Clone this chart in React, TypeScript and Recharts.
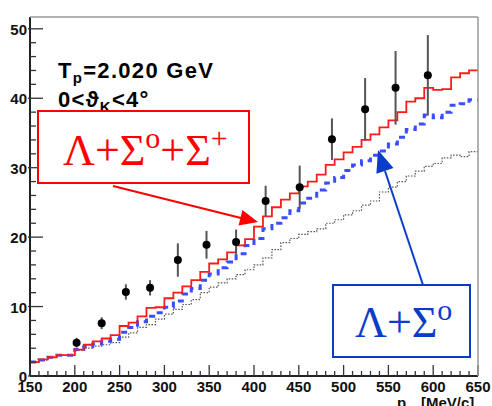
import React from 'react';
import { ComposedChart, Line, Scatter, ErrorBar, XAxis, YAxis } from 'recharts';

// histogram bins: lower edge in MeV/c, 10 MeV wide, 150..640 (last edge 650)
const binEdges = [
  150, 160, 170, 180, 190, 200, 210, 220, 230, 240,
  250, 260, 270, 280, 290, 300, 310, 320, 330, 340,
  350, 360, 370, 380, 390, 400, 410, 420, 430, 440,
  450, 460, 470, 480, 490, 500, 510, 520, 530, 540,
  550, 560, 570, 580, 590, 600, 610, 620, 630, 640, 650,
];

// Λ+Σ0+Σ+ (red)
const redVals = [
  2.0, 2.4, 2.7, 3.0, 3.0, 3.8, 4.5, 5.0, 5.4, 5.9,
  7.2, 7.7, 8.6, 9.8, 9.9, 11.2, 12.0, 12.9, 13.8, 15.0,
  16.2, 16.8, 17.8, 18.8, 19.7, 21.5, 23.0, 24.3, 25.4, 26.3,
  27.3, 28.0, 29.0, 30.4, 31.2, 32.2, 33.0, 34.0, 34.8, 35.8,
  36.8, 38.0, 39.5, 40.0, 41.5, 41.2, 41.3, 43.0, 43.6, 44.0,
];

// Λ+Σ0 (blue dashed)
const blueVals = [
  2.0, 2.3, 2.7, 3.0, 3.0, 3.8, 4.2, 4.6, 5.0, 5.3,
  6.3, 7.0, 7.8, 8.6, 9.1, 9.9, 10.8, 11.8, 12.6, 13.8,
  14.7, 15.6, 16.4, 17.6, 18.8, 19.8, 21.2, 22.0, 22.8, 23.8,
  24.9, 25.6, 26.8, 27.8, 28.6, 29.6, 30.4, 31.0, 31.8, 32.4,
  33.4, 34.4, 35.5, 36.3, 37.6, 37.2, 38.0, 39.0, 39.2, 39.8,
];

// Λ only (gray dotted)
const grayVals = [
  2.0, 2.3, 2.7, 3.0, 3.0, 3.7, 4.0, 4.3, 4.5, 4.8,
  5.6, 6.2, 7.0, 7.4, 8.2, 8.9, 9.6, 10.3, 11.0, 12.0,
  12.8, 13.4, 14.0, 14.6, 15.3, 16.0, 17.0, 18.2, 19.2, 19.8,
  20.4, 20.8, 21.2, 22.0, 22.5, 23.2, 23.8, 24.6, 25.2, 26.5,
  27.2, 28.0, 28.8, 29.5, 30.2, 30.6, 31.4, 31.8, 31.6, 32.3,
];

// measured points
const dataP = [202, 230, 257, 284, 315, 347, 380, 413, 451, 487, 524, 558, 594];
const dataV = [4.8, 7.6, 12.1, 12.7, 16.7, 18.9, 19.3, 25.2, 27.2, 34.1, 38.4, 41.5, 43.3];
const dataErr = [0.7, 0.85, 1.1, 1.1, 2.4, 2.0, 1.8, 2.2, 3.1, 3.0, 4.5, 5.3, 5.8];

const xMajor = [150, 200, 250, 300, 350, 400, 450, 500, 550, 600, 650];
const yMajor = [0, 10, 20, 30, 40, 50];

const xTicks: number[] = [];
for (let v = 150; v <= 650; v += 10) xTicks.push(v);
const yTicks: number[] = [];
for (let v = 0; v <= 50; v += 2) yTicks.push(v);

// step histogram: last bin repeated at the upper edge
const toSteps = (vals: number[]) =>
  binEdges.map((p, i) => ({ p, v: vals[Math.min(i, vals.length - 1)] }));

const redSteps = toSteps(redVals);
const blueSteps = toSteps(blueVals);
const graySteps = toSteps(grayVals);
const points = dataP.map((p, i) => ({ p, v: dataV[i], e: dataErr[i] }));

const labelFont = '"Liberation Sans", Arial, Helvetica, sans-serif';
const serifFont = '"Liberation Serif", "Times New Roman", serif';

const YTick = (props: any) => {
  const { x, y, payload } = props;
  const v = payload.value;
  const major = yMajor.includes(v);
  return (
    <g>
      <line x1={major ? x - 2 : x} x2={x + (major ? 13 : 6)} y1={y} y2={y} stroke="#333" strokeWidth={1.3} />
      {major && (
        <text x={x - 3} y={y + 6} textAnchor="end" fontFamily={labelFont} fontWeight="bold" fontSize={15} fill="#111">
          {v}
        </text>
      )}
    </g>
  );
};

const XTick = (props: any) => {
  const { x, y, payload } = props;
  const v = payload.value;
  const major = xMajor.includes(v);
  return (
    <g>
      <line x1={x} x2={x} y1={y} y2={y - (major ? 11 : 5)} stroke="#333" strokeWidth={1.3} />
      {major && (
        <text x={x} y={y + 16} textAnchor="middle" fontFamily={labelFont} fontWeight="bold" fontSize={15} fill="#111">
          {v}
        </text>
      )}
    </g>
  );
};

const Dot = (props: any) => <circle cx={props.cx} cy={props.cy} r={4} fill="#000" />;

export default function App() {
  return (
    <div style={{ position: 'relative', width: 492, height: 406, background: '#fff', overflow: 'hidden' }}>
      <style>{`body{margin:0}`}</style>
      <ComposedChart width={492} height={406} margin={{ top: 17, right: 14, left: 0, bottom: 0 }}>
        <XAxis
          type="number"
          dataKey="p"
          domain={[150, 650]}
          ticks={xTicks}
          interval={0}
          allowDataOverflow
          height={30}
          tickSize={0}
          tickMargin={0}
          tickLine={false}
          axisLine={{ stroke: '#222', strokeWidth: 2 }}
          tick={<XTick />}
        />
        <YAxis
          type="number"
          domain={[0, 51.7]}
          ticks={yTicks}
          interval={0}
          allowDataOverflow
          width={30}
          tickSize={0}
          tickMargin={0}
          tickLine={false}
          axisLine={{ stroke: '#222', strokeWidth: 2 }}
          tick={<YTick />}
        />
        <Line data={graySteps} dataKey="v" type="stepAfter" stroke="#555" strokeWidth={1.2} strokeDasharray="1.5 1.5" dot={false} isAnimationActive={false} />
        <Line data={blueSteps} dataKey="v" type="stepAfter" stroke="#3a4dff" strokeWidth={3} strokeDasharray="6 5" dot={false} isAnimationActive={false} />
        <Line data={redSteps} dataKey="v" type="stepAfter" stroke="#ff1a1a" strokeWidth={1.8} dot={false} isAnimationActive={false} />
        <Scatter data={points} dataKey="v" shape={<Dot />} isAnimationActive={false}>
          <ErrorBar dataKey="e" direction="y" width={0} stroke="#555" strokeWidth={2} />
        </Scatter>
      </ComposedChart>

      <svg width={492} height={406} style={{ position: 'absolute', left: 0, top: 0, pointerEvents: 'none' }}>
        {/* frame top/right */}
        <line x1={30} x2={478} y1={17} y2={17} stroke="#999" strokeWidth={1.5} />
        <line x1={478} x2={478} y1={17} y2={376} stroke="#999" strokeWidth={1.5} />

        <text x={58} y={78} fontFamily={labelFont} fontWeight="bold" fontSize={22} letterSpacing={1.3} fill="#000">
          T<tspan fontSize={15} dy={5}>p</tspan>
          <tspan dy={-5}>=2.020 GeV</tspan>
        </text>
        <text x={58} y={107} fontFamily={labelFont} fontWeight="bold" fontSize={22} letterSpacing={1.3} fill="#000">
          0&lt;ϑ<tspan fontSize={15} dy={5}>K</tspan>
          <tspan dy={-5}>&lt;4°</tspan>
        </text>

        {/* red label and arrow */}
        <rect x={38} y={111} width={211} height={72} fill="#fff" stroke="#ff0000" strokeWidth={2} />
        <text x={63} y={165} fontFamily={serifFont} fontSize={44} fill="#ff0000">
          Λ+Σ<tspan fontSize={30} dy={-17}>o</tspan>
          <tspan dy={17}>+Σ</tspan>
          <tspan fontSize={30} dy={-17}>+</tspan>
        </text>
        <line x1={113} y1={186} x2={241} y2={218} stroke="#ff0000" strokeWidth={2} />
        <polygon points="258,222 238.6,225.5 242.4,209.9" fill="#ff0000" />

        {/* blue label and arrow */}
        <rect x={333} y={285} width={137} height={72} fill="#fff" stroke="#0a3cc8" strokeWidth={2} />
        <text x={355} y={337} fontFamily={serifFont} fontSize={44} fill="#0a3cc8">
          Λ+Σ<tspan fontSize={30} dy={-17}>o</tspan>
        </text>
        <line x1={423} y1={285} x2={385} y2={171} stroke="#0a3cc8" strokeWidth={2} />
        <polygon points="378,150 393.5,168.1 376.4,173.7" fill="#0a3cc8" />

        <text x={397} y={408} fontFamily={labelFont} fontWeight="bold" fontSize={15} fill="#111">p</text>
        <text x={421} y={408} fontFamily={labelFont} fontWeight="bold" fontSize={15} fill="#111">[MeV/c]</text>
      </svg>
    </div>
  );
}
